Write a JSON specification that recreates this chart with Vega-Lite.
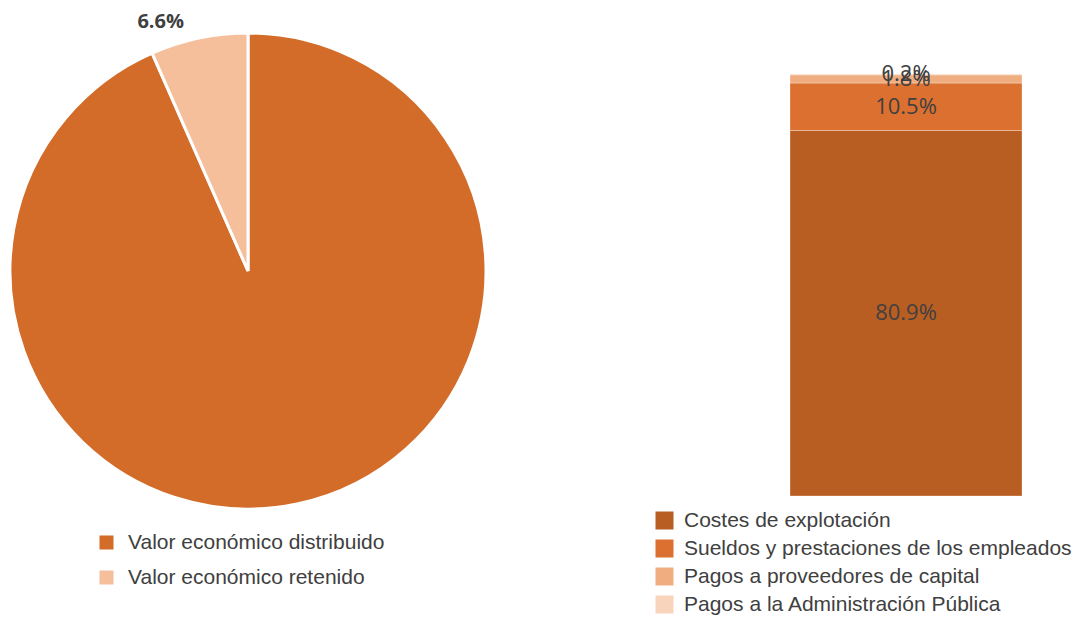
{
  "$schema": "https://vega.github.io/schema/vega-lite/v6.json",
  "padding": 0,
  "background": "white",
  "bounds": "flush",
  "spacing": 294,
  "config": {"view": {"stroke": null}},
  "resolve": {"scale": {"color": "independent"}, "legend": {"color": "independent"}},
  "hconcat": [
    {
      "width": 496,
      "height": 542,
      "data": {"values": [
        {"cat": "Valor económico distribuido", "v": 0.934, "ord": 1},
        {"cat": "Valor económico retenido", "v": 0.066, "ord": 2}
      ]},
      "layer": [
        {
          "mark": {"type": "arc", "outerRadius": 238, "stroke": "white", "strokeWidth": 3},
          "encoding": {
            "theta": {"field": "v", "type": "quantitative", "stack": true},
            "order": {"field": "ord", "type": "quantitative", "sort": "ascending"},
            "color": {
              "field": "cat", "type": "nominal",
              "scale": {"domain": ["Valor económico distribuido", "Valor económico retenido"], "range": ["#D26C28", "#F5BF9C"]},
              "legend": {
                "title": null, "orient": "none", "legendX": 96, "legendY": 532,
                "symbolType": "square", "symbolSize": 196, "symbolStrokeWidth": 0,
                "labelFont": "Liberation Sans", "labelFontSize": 21, "labelColor": "#404040",
                "labelOffset": 11, "rowPadding": 13, "labelLimit": 0
              }
            }
          }
        },
        {
          "mark": {"type": "text", "radius": 254, "dx": -35, "font": "Open Sans", "fontSize": 20, "fontWeight": "bold", "fill": "#404040"},
          "encoding": {
            "theta": {"field": "v", "type": "quantitative", "stack": true},
            "order": {"field": "ord", "type": "quantitative", "sort": "ascending"},
            "detail": {"field": "cat", "type": "nominal"},
            "text": {"condition": {"test": "datum.v < 0.1", "field": "v", "format": ".1%"}, "value": ""}
          }
        }
      ]
    },
    {
      "width": 232,
      "height": 496,
      "data": {"values": [
        {"cat": "Costes de explotación", "v": 0.809, "ord": 1},
        {"cat": "Sueldos y prestaciones de los empleados", "v": 0.105, "ord": 2},
        {"cat": "Pagos a proveedores de capital", "v": 0.018, "ord": 3},
        {"cat": "Pagos a la Administración Pública", "v": 0.002, "ord": 4}
      ]},
      "transform": [
        {"stack": "v", "groupby": [], "sort": [{"field": "ord", "order": "ascending"}], "as": ["v0", "v1"]},
        {"calculate": "(datum.v0 + datum.v1) / 2", "as": "mid"},
        {"calculate": "'g'", "as": "grp"}
      ],
      "layer": [
        {
          "mark": {"type": "bar", "stroke": "white", "strokeWidth": 0.6, "strokeOpacity": 0.5},
          "encoding": {
            "x": {"field": "grp", "type": "nominal", "axis": null, "scale": {"paddingInner": 0, "paddingOuter": 0}},
            "y": {"field": "v0", "type": "quantitative", "axis": null, "scale": {"domain": [0, 1.0978], "nice": false}},
            "y2": {"field": "v1"},
            "color": {
              "field": "cat", "type": "nominal",
              "scale": {
                "domain": ["Costes de explotación", "Sueldos y prestaciones de los empleados", "Pagos a proveedores de capital", "Pagos a la Administración Pública"],
                "range": ["#B95E23", "#DC7030", "#F0AE80", "#F8D4BC"]
              },
              "legend": {
                "title": null, "orient": "none", "legendX": -136, "legendY": 510,
                "symbolType": "square", "symbolSize": 324, "symbolStrokeWidth": 0,
                "labelFont": "Liberation Sans", "labelFontSize": 21, "labelColor": "#404040",
                "labelOffset": 9, "rowPadding": 6, "labelLimit": 0
              }
            }
          }
        },
        {
          "mark": {"type": "text", "font": "Open Sans", "fontSize": 22, "fill": "#404040", "baseline": "middle"},
          "encoding": {
            "x": {"field": "grp", "type": "nominal", "axis": null},
            "y": {"field": "mid", "type": "quantitative"},
            "text": {"field": "v", "type": "quantitative", "format": ".1%"}
          }
        }
      ]
    }
  ]
}
